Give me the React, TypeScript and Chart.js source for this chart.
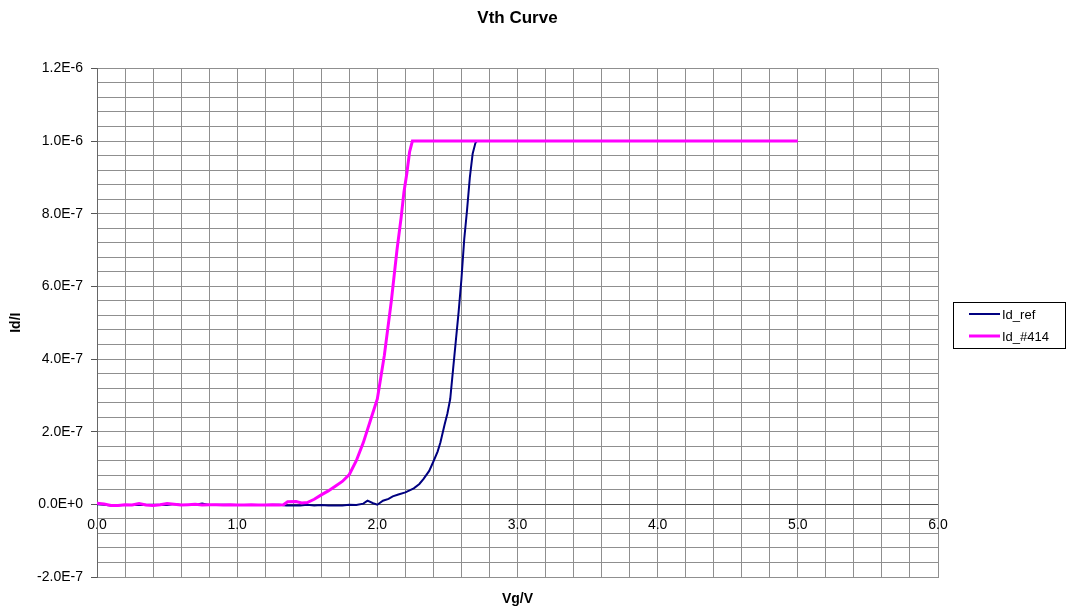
import React, { useEffect, useRef } from "react";
import { Chart, registerables } from "chart.js";

Chart.register(...registerables);

// ---- Data (Id values in nA) ----
const vgRef = [0, 0.05, 0.1, 0.2, 0.3, 0.4, 0.5, 0.55, 0.6, 0.7, 0.75, 0.8, 0.9, 1.0, 1.1, 1.2, 1.3, 1.35, 1.45, 1.5, 1.55, 1.6, 1.65, 1.7, 1.75, 1.8, 1.85, 1.9, 1.93, 1.97, 2.0, 2.04, 2.08, 2.11, 2.15, 2.2, 2.26, 2.3, 2.33, 2.37, 2.4, 2.43, 2.45, 2.48, 2.5, 2.52, 2.54, 2.56, 2.58, 2.6, 2.62, 2.64, 2.66, 2.68, 2.7, 2.71, 2.72];
const idRefNA = [0, -1, -3, -2, -2, -1, -2, 1, -2, -1, 2, -2, -1, -2, -2, -2, -1, -3, -3, -1, -3, -2, -3, -3, -3, -1, -2, 2, 10, 3, -1, 10, 15, 22, 27, 33, 44, 56, 70, 92, 118, 145, 170, 220, 250, 290, 370, 450, 530, 620, 730, 810, 900, 965, 995, 1000, 1000];

const vg414 = [0, 0.05, 0.1, 0.15, 0.2, 0.25, 0.3, 0.35, 0.4, 0.45, 0.5, 0.55, 0.6, 0.65, 0.7, 0.75, 0.8, 0.85, 0.9, 0.95, 1.0, 1.05, 1.1, 1.15, 1.2, 1.25, 1.3, 1.33, 1.36, 1.42, 1.46, 1.5, 1.55, 1.6, 1.65, 1.7, 1.75, 1.8, 1.85, 1.9, 1.95, 2.0, 2.05, 2.1, 2.14, 2.17, 2.19, 2.21, 2.23, 2.25, 5.0];
const id414NA = [3, 1, -3, -3, -1, -2, 2, -2, -3, -1, 2, 0, -2, -1, 0, -2, -1, -1, -2, -1, -2, -2, -1, -2, -2, -1, -2, -1, 7, 8, 4, 5, 14, 26, 37, 50, 63, 82, 120, 170, 230, 290, 410, 560, 700, 790, 860, 910, 970, 1000, 1000];

const NANO = 1e-9;

const seriesNames = ["Id_ref", "Id_#414"];
const seriesColors = ["#000080", "#ff00ff"];

const xTickLabels = ["0.0", "1.0", "2.0", "3.0", "4.0", "5.0", "6.0"];
const yTickLabels = ["-2.0E-7", "0.0E+0", "2.0E-7", "4.0E-7", "6.0E-7", "8.0E-7", "1.0E-6", "1.2E-6"];

const X_MIN = 0, X_MAX = 6, X_MINOR = 0.2;
const Y_MIN = -2e-7, Y_MAX = 1.2e-6, Y_MINOR = 4e-8, Y_MAJOR_EVERY = 5;

const FONT = "'Liberation Sans', Arial, sans-serif";
const GRID = "#8f8f8f";

const legendPlugin = {
  id: "boxLegend",
  afterDraw(chart: any) {
    const ctx = chart.ctx;
    ctx.save();
    const left = 953.5, top = 302.5, w = 112, h = 46;
    ctx.strokeStyle = "#000";
    ctx.lineWidth = 1;
    ctx.strokeRect(left, top, w, h);
    const rows = [314, 336];
    const widths = [2, 3];
    ctx.font = "13px " + FONT;
    ctx.textBaseline = "middle";
    ctx.textAlign = "left";
    seriesNames.forEach((name, i) => {
      ctx.strokeStyle = seriesColors[i];
      ctx.lineWidth = widths[i];
      ctx.beginPath();
      ctx.moveTo(969, rows[i]);
      ctx.lineTo(1000, rows[i]);
      ctx.stroke();
      ctx.fillStyle = "#000";
      ctx.fillText(name, 1002, rows[i] + 1);
    });
    ctx.restore();
  },
};

export default function App() {
  const ref = useRef<HTMLCanvasElement>(null);
  useEffect(() => {
    document.body.style.margin = "0";
    const canvas = ref.current!;
    const chart = new Chart(canvas, {
      type: "line",
      data: {
        datasets: [
          {
            label: seriesNames[0],
            data: vgRef.map((v, i) => ({ x: v, y: idRefNA[i] * NANO })),
            borderColor: seriesColors[0],
            backgroundColor: seriesColors[0],
            borderWidth: 2,
            pointRadius: 0,
            tension: 0,
            order: 2,
          },
          {
            label: seriesNames[1],
            data: vg414.map((v, i) => ({ x: v, y: id414NA[i] * NANO })),
            borderColor: seriesColors[1],
            backgroundColor: seriesColors[1],
            borderWidth: 3,
            pointRadius: 0,
            tension: 0,
            order: 1,
          },
        ],
      },
      options: {
        responsive: false,
        animation: false,
        layout: { padding: { left: 0, right: 130, top: 0, bottom: 0 } },
        plugins: {
          legend: { display: false },
          tooltip: { enabled: false },
          title: {
            display: true,
            fullSize: false,
            text: "Vth Curve",
            color: "#000",
            font: { family: FONT, size: 17, weight: "bold" },
            padding: { top: 8, bottom: 40 },
          },
        },
        scales: {
          x: {
            type: "linear",
            position: "bottom",
            min: X_MIN,
            max: X_MAX,
            afterBuildTicks: (s: any) => {
              const n = Math.round((X_MAX - X_MIN) / X_MINOR);
              const t = [];
              for (let i = 0; i <= n; i++) t.push({ value: X_MIN + i * X_MINOR });
              s.ticks = t;
            },
            afterFit: (s: any) => { s.height = 33; },
            ticks: { display: false },
            grid: { color: GRID, lineWidth: 1, drawTicks: false },
            border: { display: true, color: GRID },
            title: {
              display: true,
              text: "Vg/V",
              color: "#000",
              font: { family: FONT, size: 14, weight: "bold" },
              padding: { top: 0, bottom: 2 },
            },
          },
          x2: {
            type: "linear",
            axis: "x",
            position: { y: 0 },
            min: X_MIN,
            max: X_MAX,
            afterBuildTicks: (s: any) => {
              s.ticks = xTickLabels.map((_, i) => ({ value: X_MIN + i }));
            },
            afterFit: (s: any) => { s.height = 0; },
            ticks: {
              color: "#000",
              font: { family: FONT, size: 14 },
              padding: 12,
              maxRotation: 0,
              callback: (_v: any, i: number) => xTickLabels[i],
            },
            grid: { display: false, drawTicks: false },
            border: { display: false },
          },
          y: {
            type: "linear",
            position: "left",
            min: Y_MIN,
            max: Y_MAX,
            afterBuildTicks: (s: any) => {
              const n = Math.round((Y_MAX - Y_MIN) / Y_MINOR);
              const t = [];
              for (let i = 0; i <= n; i++) t.push({ value: Y_MIN + i * Y_MINOR });
              s.ticks = t;
            },
            afterFit: (s: any) => { s.width = 97; },
            ticks: {
              color: "#000",
              font: { family: FONT, size: 14 },
              padding: 8,
              autoSkip: false,
              callback: (_v: any, i: number) =>
                i % Y_MAJOR_EVERY === 0 ? yTickLabels[i / Y_MAJOR_EVERY] : "",
            },
            grid: {
              color: (c: any) =>
                c.tick && Math.abs(c.tick.value) < 1e-12 ? "#555555" : GRID,
              lineWidth: 1,
              drawTicks: true,
              tickLength: 6,
              tickColor: (c: any) =>
                c.index % Y_MAJOR_EVERY === 0 ? "#555555" : "rgba(0,0,0,0)",
            },
            border: { display: true, color: "#666666", width: 1 },
            title: {
              display: true,
              text: "Id/I",
              color: "#000",
              font: { family: FONT, size: 14, weight: "bold" },
              padding: { top: 8, bottom: 0 },
            },
          },
        },
      },
      plugins: [legendPlugin],
    } as any);
    return () => chart.destroy();
  }, []);
  return (
    <div style={{ width: 1068, height: 610 }}>
      <canvas ref={ref} width={1068} height={610} />
    </div>
  );
}
